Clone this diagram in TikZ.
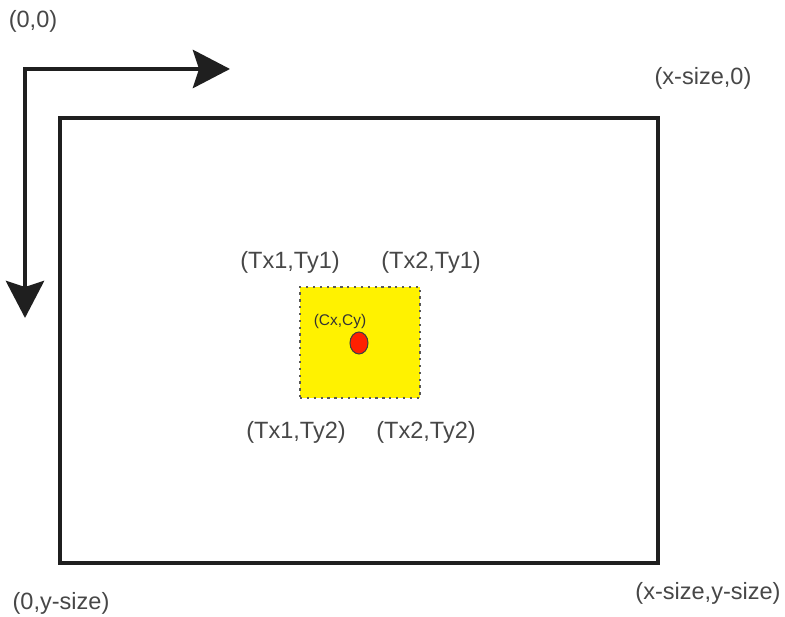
\documentclass[tikz,border=0pt]{standalone}
\usepackage{fontspec}
\setmainfont{Liberation Sans}
\usetikzlibrary{arrows.meta,positioning,shapes.geometric}

\begin{document}
\begin{tikzpicture}[x=0.02cm,y=-0.02cm,
   lbl/.style={text=black!72,inner sep=0pt,font=\fontsize{13.4}{15}\selectfont},
   small/.style={text=black!80,inner sep=0pt,font=\fontsize{8.8}{10}\selectfont},
   axis/.style={line width=2.8pt,draw=black!88,line join=miter,
      {Stealth[length=0.74cm,width=0.76cm,inset=0.12cm]}-{Stealth[length=0.74cm,width=0.76cm,inset=0.12cm]}},
   frame/.style={draw=black!88,line width=2.8pt},
   window/.style={draw=black!65,fill=yellow,line width=1.5pt,dash pattern=on 1.3pt off 2.6pt,
      minimum width=2.4cm,minimum height=2.22cm,inner sep=0pt},
   centre/.style={ellipse,draw=black!75,fill=red!75!orange,line width=0.6pt,
      minimum width=0.36cm,minimum height=0.44cm,inner sep=0pt}]
   \useasboundingbox (0,0) rectangle (785,617);

   % axes
   \coordinate (o)  at (25,69);
   \coordinate (xa) at (230,69);
   \coordinate (ya) at (25,318);
   \draw[axis] (ya) -- (o) -- (xa);

   % image frame
   \coordinate (tl) at (60,118);
   \coordinate (br) at (658,563);
   \draw[frame] (tl) rectangle (br);

   % tracked window
   \node[window] (win) at (360,342.5) {};
   \node[centre] (c) at (359,343) {};
   \node[small] (cl) at (340,322) {(Cx,Cy)};

   \node[lbl] (l00) at (33,21)   {(0,0)};
   \node[lbl] (lx0) at (703,78)  {(x-size,0)};
   \node[lbl] (l0y) at (61,603)  {(0,y-size)};
   \node[lbl] (lxy) at (708,593) {(x-size,y-size)};
   \node[lbl] (t11) at (290,262) {(Tx1,Ty1)};
   \node[lbl] (t21) at (431,262) {(Tx2,Ty1)};
   \node[lbl] (t12) at (296,432) {(Tx1,Ty2)};
   \node[lbl] (t22) at (426,432) {(Tx2,Ty2)};
\end{tikzpicture}
\end{document}
